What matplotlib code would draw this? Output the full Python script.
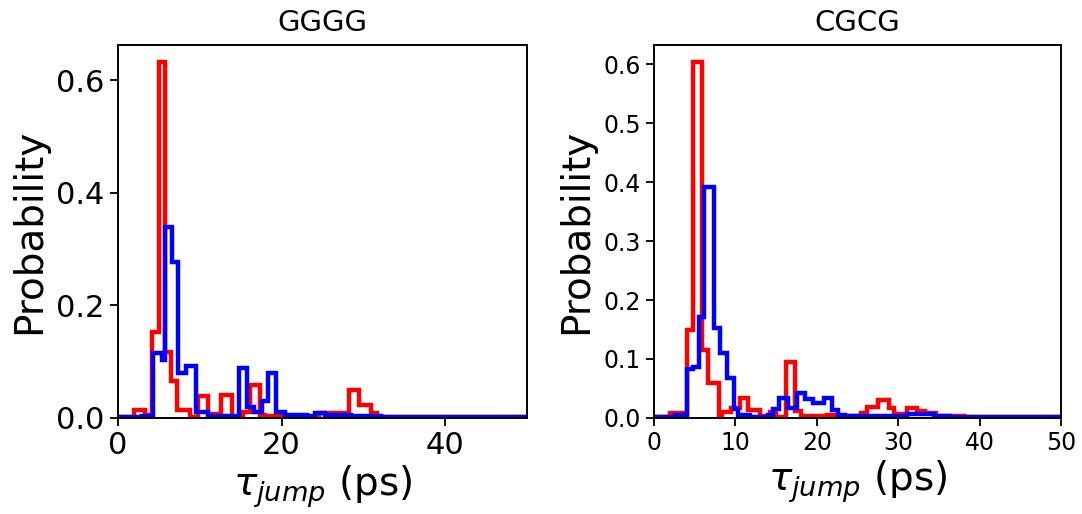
import matplotlib
matplotlib.use("Agg")
import matplotlib.pyplot as plt

# GGGG: step histograms (bin edges in ps, probability per bin)
gggg_red_edges = [0, 1.95, 3.25, 4.12, 4.98, 5.75, 6.45, 7.19, 8.8, 9.8, 11.0, 12.6,
                  13.9, 15.3, 16.2, 17.4, 18.0, 20.0, 24.6, 28.3, 29.5, 30.9, 31.7, 50]
gggg_red = [0.002, 0.014, 0.006, 0.152, 0.632, 0.118, 0.065, 0.014, 0.002, 0.039, 0.007,
            0.041, 0.002, 0.011, 0.058, 0.006, 0.003, 0.002, 0.009, 0.049, 0.023, 0.008, 0.001]

gggg_blue_edges = [0, 3.0, 4.3, 5.39, 5.75, 6.57, 7.3, 8.36, 9.58, 11.0, 14.85, 15.8,
                   16.6, 17.6, 18.4, 19.3, 20.4, 23.1, 24.1, 25.3, 28.5, 32.2, 50]
gggg_blue = [0.002, 0.004, 0.115, 0.103, 0.339, 0.278, 0.08, 0.093, 0.01, 0.003, 0.088,
             0.02, 0.011, 0.03, 0.079, 0.011, 0.005, 0.003, 0.008, 0.005, 0.004, 0.001]

# CGCG
cgcg_red_edges = [0, 2.0, 4.0, 4.8, 5.85, 6.65, 8.0, 8.3, 9.5, 10.5, 11.6, 13.0, 14.2,
                  15.0, 16.2, 17.3, 18.0, 21.2, 22.4, 25.4, 26.1, 27.5, 28.8, 29.5, 31.0,
                  32.3, 33.3, 34.6, 38.0, 50]
cgcg_red = [0.002, 0.009, 0.149, 0.603, 0.115, 0.059, 0.003, 0.01, 0.017, 0.033, 0.014,
            0.004, 0.01, 0.002, 0.094, 0.011, 0.003, 0.005, 0.003, 0.008, 0.019, 0.030,
            0.016, 0.006, 0.016, 0.012, 0.008, 0.003, 0.001]

cgcg_blue_edges = [0, 2.6, 4.0, 4.8, 5.55, 6.2, 7.35, 8.1, 9.0, 9.8, 10.35, 11.8, 14.0,
                   14.6, 15.4, 16.5, 17.5, 18.5, 19.5, 20.9, 21.8, 22.6, 23.5, 31.0, 34.4,
                   36.3, 37.5, 50]
cgcg_blue = [0.002, 0.005, 0.083, 0.086, 0.172, 0.392, 0.153, 0.11, 0.068, 0.015, 0.005,
             0.002, 0.005, 0.015, 0.033, 0.016, 0.042, 0.032, 0.025, 0.033, 0.014, 0.005,
             0.003, 0.006, 0.004, 0.002, 0.001]

titles = ["GGGG", "CGCG"]
xlabel = r"$\tau_{jump}$ (ps)"

fig = plt.figure(figsize=(10.82, 5.14), dpi=100)
ax1 = fig.add_axes([0.109, 0.187, 0.378, 0.726])
ax2 = fig.add_axes([0.6044, 0.187, 0.3766, 0.726])

panels = [
    (ax1, gggg_red_edges, gggg_red, gggg_blue_edges, gggg_blue, 22, [0, 20, 40]),
    (ax2, cgcg_red_edges, cgcg_red, cgcg_blue_edges, cgcg_blue, 17, [0, 10, 20, 30, 40, 50]),
]

for i, (ax, re, rv, be, bv, tsize, xt) in enumerate(panels):
    ax.stairs(rv, re, color="red", lw=3.2)
    ax.stairs(bv, be, color="blue", lw=3.2)
    ax.set_xlim(0, 50)
    ax.set_ylim(bottom=0)
    ax.set_xticks(xt)
    ax.set_title(titles[i], fontsize=21, pad=10)
    ax.set_xlabel(xlabel, fontsize=28, labelpad=2)
    ax.set_ylabel("Probability", fontsize=28, labelpad=6)
    ax.tick_params(labelsize=tsize, length=6, width=1.3)
    for s in ax.spines.values():
        s.set_linewidth(1.4)

ax1.set_yticks([0.0, 0.2, 0.4, 0.6])
ax2.set_yticks([0.0, 0.1, 0.2, 0.3, 0.4, 0.5, 0.6])

fig.savefig("out.png", dpi=100)
